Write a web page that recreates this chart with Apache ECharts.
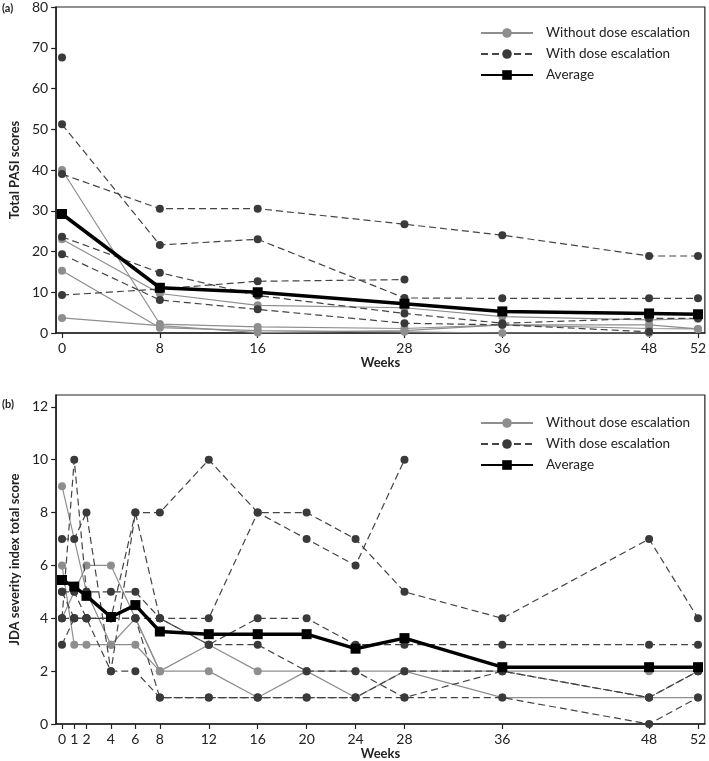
<!DOCTYPE html>
<html><head><meta charset="utf-8">
<script src="https://cdn.jsdelivr.net/npm/echarts@6/dist/echarts.min.js"></script>
<style>html,body{margin:0;padding:0;background:#fff}#c{width:709px;height:761px}</style>
</head><body><div id="c"></div>
<script>
// ---------- Panel (a): Total PASI scores ----------
const weeksA = [0, 8, 16, 28, 36, 48, 52];
const yTicksA = [0, 10, 20, 30, 40, 50, 60, 70, 80];
const withoutA1 = [40, 2.2, 1.5, 1.1, 2.0, 1.1, 1.0];
const withoutA2 = [23, 9.7, 6.8, 6.2, 4.0, 3.2, 3.5];
const withoutA3 = [15.3, 1.3, 0.6, 0.3, 0, 0, null];
const withoutA4 = [3.7, 1.8, 0.1, 0.6, 2.0, 2.0, 1.0];
const withA1 = [67.6, null, null, null, null, null, null];
const withA2 = [51.2, 21.6, 23.0, 8.6, 8.5, 8.5, 8.5];
const withA3 = [39.0, 30.5, 30.5, 26.7, 24.0, 18.9, 18.9];
const withA4 = [23.6, 14.8, 9.2, 4.8, 2.4, 3.6, 3.6];
const withA5 = [19.3, 8.1, 5.8, 2.4, 2.0, 0.3, null];
const withA6 = [9.3, 10.8, 12.7, 13.1, null, null, null];
const averageA = [29.2, 11.1, 10.0, 7.2, 5.3, 4.8, 4.6];

// ---------- Panel (b): JDA severity index total score ----------
const weeksB = [0, 1, 2, 4, 6, 8, 12, 16, 20, 24, 28, 36, 48, 52];
const yTicksB = [0, 2, 4, 6, 8, 10, 12];
const withoutB1 = [6, 3, 3, 3, 3, 2, 2, 1, 2, 1, 2, 1, 1, 1];
const withoutB2 = [9, null, 5, 3, 4, 2, 3, 2, 2, 2, 2, 2, 2, 2];
const withoutB3 = [4, 5, 6, 6, 4, 2, null, null, null, null, null, null, null, null];
const withB1 = [4, 4, 4, 4, 8, 8, 10, 8, 8, 7, 5, 4, 7, 4];
const withB2 = [7, 7, 8, 2, 8, 4, 3, 4, 4, 3, 3, 3, 3, 3];
const withB3 = [4, 10, 5, 5, 5, 4, 4, 8, 7, 6, 10, null, null, null];
const withB4 = [5, 4, 4, 2, 2, 1, 1, 1, 1, 1, 1, 1, 0, 1];
const withB5 = [3, 4, 4, 4, 4, 4, 3, 3, 2, 2, 1, 2, 1, 2];
const withB6 = [5, 5, 4, 4, 4, 1, 1, 1, 1, 1, 2, 2, 1, 2];
const averageB = [5.45, 5.2, 4.85, 4.05, 4.5, 3.5, 3.4, 3.4, 3.4, 2.85, 3.25, 2.15, 2.15, 2.15];

const NAME_WO = 'Without dose escalation';
const NAME_W = 'With dose escalation';
const NAME_AVG = 'Average';
const FONT = 'Lato, "Open Sans", sans-serif';

function pts(weeks, vals) {
  return weeks.map((w, i) => [w, vals[i]]).filter(p => p[1] !== null && p[1] !== undefined);
}
function seriesOf(kind, weeks, vals, idx) {
  const base = { type: 'line', xAxisIndex: idx, yAxisIndex: idx, data: pts(weeks, vals),
    symbol: 'circle', symbolSize: 8, animation: false, silent: true };
  if (kind === 'wo') {
    return Object.assign(base, { name: NAME_WO, z: 2,
      itemStyle: { color: '#8e8e8e' },
      lineStyle: { color: '#8e8e8e', width: 1.2, type: 'solid' } });
  }
  if (kind === 'w') {
    return Object.assign(base, { name: NAME_W, z: 3,
      itemStyle: { color: '#3a3a3a' },
      lineStyle: { color: '#444', width: 1.2, type: [7, 4] } });
  }
  return Object.assign(base, { name: NAME_AVG, z: 5, symbol: 'rect', symbolSize: 10,
    itemStyle: { color: '#000' },
    lineStyle: { color: '#000', width: 3.5, type: 'solid' } });
}

const series = [];
[withoutA1, withoutA2, withoutA3, withoutA4].forEach(v => series.push(seriesOf('wo', weeksA, v, 0)));
[withA1, withA2, withA3, withA4, withA5, withA6].forEach(v => series.push(seriesOf('w', weeksA, v, 0)));
series.push(seriesOf('avg', weeksA, averageA, 0));
[withoutB1, withoutB2, withoutB3].forEach(v => series.push(seriesOf('wo', weeksB, v, 1)));
[withB1, withB2, withB3, withB4, withB5, withB6].forEach(v => series.push(seriesOf('w', weeksB, v, 1)));
series.push(seriesOf('avg', weeksB, averageB, 1));

const axisLine = { show: true, onZero: false, lineStyle: { color: '#222', width: 1.6 } };
const tick = (vals) => ({ show: true, inside: false, length: 5, customValues: vals, lineStyle: { color: '#222', width: 1.2 } });
const lab = (vals) => ({ customValues: vals, color: '#222', fontSize: 14, fontFamily: FONT, margin: 8 });

function xAx(idx, weeks) {
  return { type: 'value', gridIndex: idx, min: -0.48, max: 52.56,
    name: 'Weeks', nameLocation: 'middle', nameGap: 23,
    nameTextStyle: { fontWeight: 'bold', fontSize: 13, color: '#222', fontFamily: FONT },
    axisLine, axisTick: tick(weeks), axisLabel: lab(weeks), splitLine: { show: false } };
}
function yAx(idx, max, ticks, name) {
  return { type: 'value', gridIndex: idx, min: 0, max: max,
    name: name, nameLocation: 'middle', nameGap: 28,
    nameTextStyle: { fontWeight: 'bold', fontSize: 13, color: '#222', fontFamily: FONT },
    axisLine, axisTick: tick(ticks), axisLabel: lab(ticks), splitLine: { show: false } };
}

const legendBase = { orient: 'vertical', left: 480, padding: 0, itemWidth: 52, itemHeight: 12, itemGap: 7,
  data: [NAME_WO, NAME_W, NAME_AVG], selectedMode: false,
  textStyle: { fontSize: 13.5, color: '#222', fontFamily: FONT, padding: [0, 0, 0, 8] } };

const option = {
  animation: false,
  backgroundColor: '#fff',
  title: [
    { text: '(a)', left: 2, top: 3, padding: 0, textStyle: { fontSize: 11, fontWeight: 'bold', color: '#222', fontFamily: FONT } },
    { text: '(b)', left: 2, top: 399, padding: 0, textStyle: { fontSize: 11, fontWeight: 'bold', color: '#222', fontFamily: FONT } }
  ],
  legend: [
    Object.assign({}, legendBase, { top: 26 }),
    Object.assign({}, legendBase, { top: 416 })
  ],
  grid: [
    { left: 44, right: 2, top: 6, height: 327, show: true, borderColor: '#222', borderWidth: 1.2, backgroundColor: 'transparent' },
    { left: 44, right: 2, top: 395, height: 329, show: true, borderColor: '#222', borderWidth: 1.2, backgroundColor: 'transparent' }
  ],
  xAxis: [xAx(0, weeksA), xAx(1, weeksB)],
  yAxis: [yAx(0, 80, yTicksA, 'Total PASI scores'), yAx(1, 12.45, yTicksB, 'JDA severity index total score')],
  series
};
const chart = echarts.init(document.getElementById('c'), null, { renderer: 'canvas' });
chart.setOption(option);
</script>
</body></html>
